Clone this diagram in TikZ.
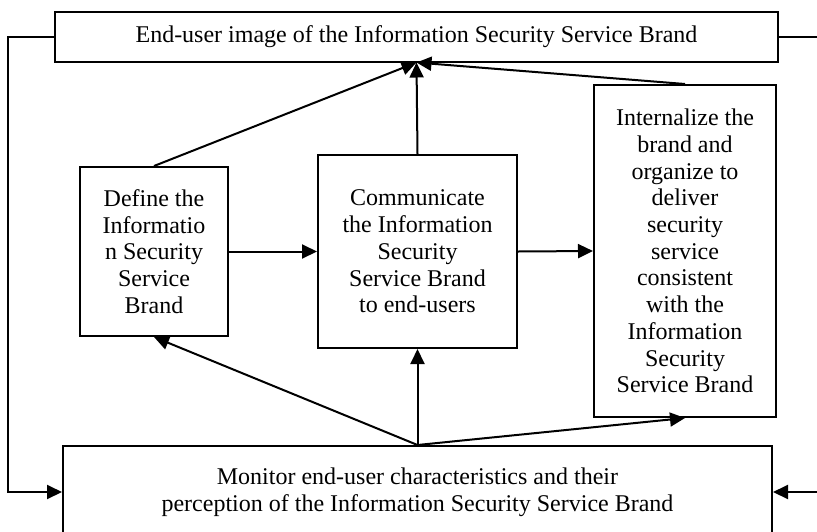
\documentclass[tikz,border=0pt]{standalone}
\usepackage{fontspec}
\setmainfont{Liberation Serif}
\usetikzlibrary{arrows.meta}
\begin{document}
\begin{tikzpicture}[x=1pt,y=-1pt,
  box/.style={draw,line width=2pt,fill=white,align=center,inner sep=0pt,
    font=\fontsize{24}{26.7}\selectfont},
  arr/.style={line width=2pt,-{Triangle[length=15pt,width=14pt]}},
  ln/.style={line width=2pt}]
\clip (0,0) rectangle (817,531);
\fill[white] (0,0) rectangle (817,531);

\node[box,minimum width=723pt,minimum height=50pt] (image) at (416.5,36.5)
  {End-user image of the Information Security Service Brand};
\node[box,minimum width=148pt,minimum height=169pt] (define) at (154,251.5)
  {Define the\\Informatio\\n Security\\Service\\Brand};
\node[box,minimum width=199pt,minimum height=193pt] (comm) at (417.5,251.5)
  {Communicate\\the Information\\Security\\Service Brand\\to end-users};
\node[box,minimum width=182pt,minimum height=332pt] (intern) at (685,251)
  {Internalize the\\brand and\\organize to\\deliver\\security\\service\\consistent\\with the\\Information\\Security\\Service Brand};
\node[box,minimum width=709pt,minimum height=92pt] (monitor) at (417.5,492)
  {Monitor end-user characteristics and their\\perception of the Information Security Service Brand};

\coordinate (loopL) at (8,0);
\coordinate (edgeR) at (817,0);

% flows into the brand image
\draw[arr] (define.north) -- (image.south);
\draw[arr] (comm.north) -- (image.south);
\draw[arr] (intern.north) -- (image.south);

% main sequence
\draw[arr] (define.east) -- (comm.west);
\draw[arr] (comm.east) -- (intern.west);

% feedback from monitoring
\draw[arr] (monitor.north) -- (define.south);
\draw[arr] (monitor.north) -- (comm.south);
\draw[arr] (monitor.north) -- (intern.south);

% outer loops
\draw[arr] (image.west) -| (loopL |- monitor.west) -- (monitor.west);
\draw[ln] (image.east) -- (image.east -| edgeR);
\draw[arr] (edgeR |- monitor.east) -- (monitor.east);
\end{tikzpicture}
\end{document}
